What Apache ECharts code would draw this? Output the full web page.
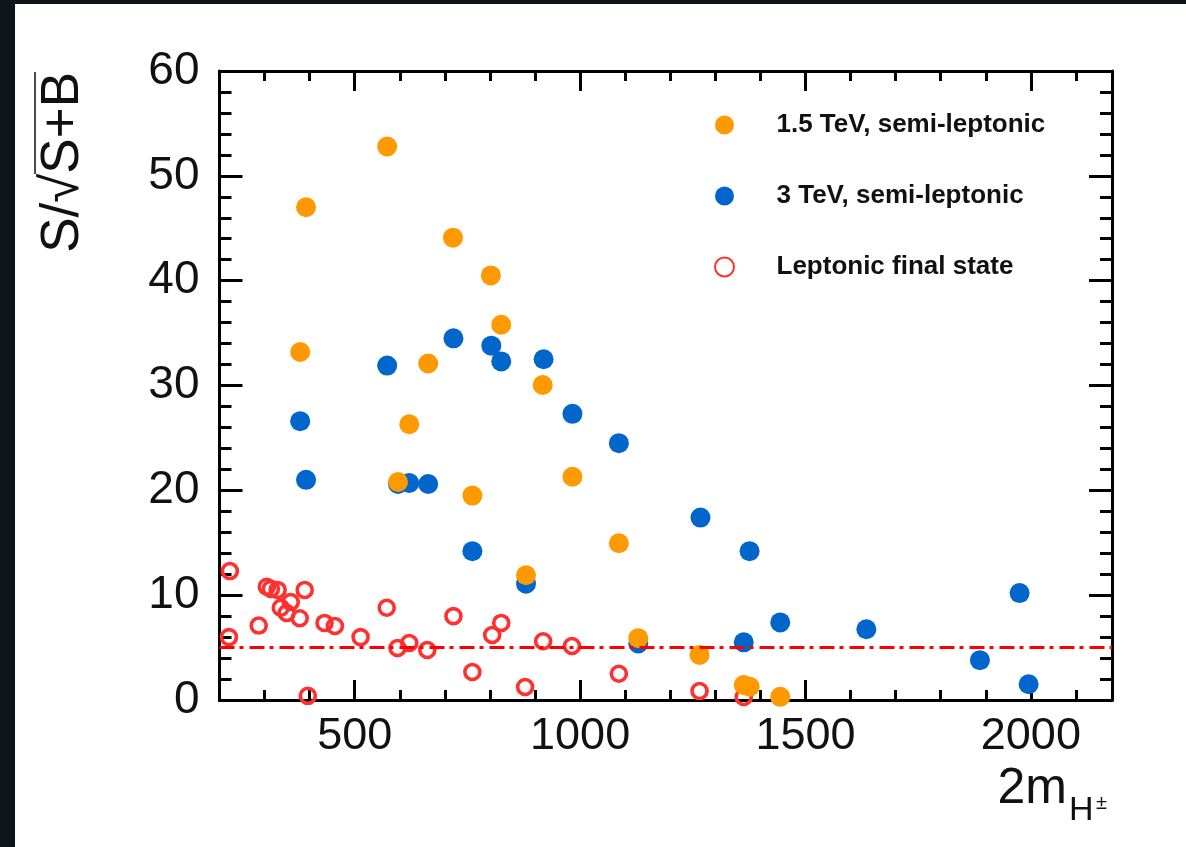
<!DOCTYPE html>
<html>
<head>
<meta charset="utf-8">
<script src="https://cdn.jsdelivr.net/npm/echarts@6/dist/echarts.min.js"></script>
<style>
  html, body { margin: 0; padding: 0; background: #0e141a; width: 1186px; height: 847px; overflow: hidden; }
  #chart { position: absolute; left: 15px; top: 4px; width: 1171px; height: 843px; background: #ffffff; }
</style>
</head>
<body>
<div id="chart"></div>
<script>
// ---- data ----
const seriesNames = ['1.5 TeV, semi-leptonic', '3 TeV, semi-leptonic', 'Leptonic final state'];

const orangeX = [572, 392, 379, 718, 802, 825, 663, 917, 621, 596, 761, 983, 1086, 880, 1129, 1265, 1363, 1376, 1444];
const orangeY = [52.8, 47.0, 33.2, 44.1, 40.5, 35.8, 32.1, 30.05, 26.3, 20.8, 19.5, 21.3, 14.95, 11.9, 5.9, 4.3, 1.43, 1.27, 0.3];

const blueX = [572, 719, 803, 825, 919, 379, 392, 596, 621, 663, 983, 1086, 761, 880, 1267, 1376, 1129, 1363, 1444, 1635, 1887, 1975, 1995];
const blueY = [31.9, 34.5, 33.8, 32.3, 32.5, 26.6, 21.0, 20.6, 20.7, 20.6, 27.3, 24.5, 14.2, 11.1, 17.4, 14.2, 5.4, 5.5, 7.4, 6.75, 3.8, 10.2, 1.5];

const redX = [223, 221, 287, 305, 314, 329, 358, 336, 349, 378, 389, 396, 433, 456, 513, 571, 595, 621, 661, 719, 761, 805, 825, 878, 918, 982, 1086, 1265, 1363];
const redY = [12.3, 6.0, 7.1, 10.8, 10.6, 10.5, 9.35, 8.8, 8.3, 7.8, 10.5, 0.4, 7.35, 7.06, 6.0, 8.8, 4.96, 5.44, 4.77, 8.0, 2.67, 6.2, 7.35, 1.24, 5.6, 5.15, 2.5, 0.86, 0.29];

const thresholdY = 5;
const xMin = 200, xMax = 2180, xMinorStep = 100;
const xMajorTicks = [500, 1000, 1500, 2000];
const yMin = 0, yMax = 60, yStep = 10;
const yTitle = 'S/\u221AS+B';
const xTitleMain = '2m';
const xTitleSub = 'H';
const xTitleSup = '\u00B1';

// ---- build ----
const zip = (xs, ys) => xs.map((x, i) => [x, ys[i]]);
const FONT = '"Liberation Sans", Arial, Helvetica, sans-serif';
const black = '#000';

function xAxisBase(pos) {
  return {
    type: 'value', min: xMin, max: xMax, position: pos,
    splitLine: { show: false },
    axisLine: { show: true, onZero: false, lineStyle: { color: black, width: 3 } }
  };
}

const xAxes = [
  Object.assign(xAxisBase('bottom'), {
    interval: xMinorStep,
    axisTick: { show: true, inside: true, length: 10, lineStyle: { color: black, width: 3 } },
    axisLabel: { show: true, customValues: xMajorTicks, formatter: v => String(v), fontSize: 45, fontFamily: FONT, color: '#111', margin: 14 }
  }),
  Object.assign(xAxisBase('bottom'), {
    interval: xMinorStep,
    axisTick: { show: true, inside: true, length: 20, customValues: xMajorTicks, lineStyle: { color: black, width: 3 } },
    axisLabel: { show: false }
  }),
  Object.assign(xAxisBase('top'), {
    interval: xMinorStep,
    axisTick: { show: true, inside: true, length: 10, lineStyle: { color: black, width: 3 } },
    axisLabel: { show: false }
  }),
  Object.assign(xAxisBase('top'), {
    interval: xMinorStep,
    axisTick: { show: true, inside: true, length: 20, customValues: xMajorTicks, lineStyle: { color: black, width: 3 } },
    axisLabel: { show: false }
  })
];

function yAxisBase(pos, labels) {
  return {
    type: 'value', min: yMin, max: yMax, interval: yStep, position: pos,
    splitLine: { show: false },
    axisLine: { show: true, onZero: false, lineStyle: { color: black, width: 3 } },
    axisTick: { show: true, inside: true, length: 23, lineStyle: { color: black, width: 3 } },
    minorTick: { show: true, splitNumber: 5, length: 12, lineStyle: { color: black, width: 3 } },
    axisLabel: { show: labels, fontSize: 46, fontFamily: FONT, color: '#111', margin: 20 }
  };
}

const option = {
  animation: false,
  backgroundColor: '#ffffff',
  grid: { left: 204.5, right: 74, top: 67, bottom: 147, containLabel: false },
  xAxis: xAxes,
  yAxis: [yAxisBase('left', true), yAxisBase('right', false)],
  legend: {
    data: seriesNames,
    orient: 'vertical',
    left: 694, top: 103,
    itemWidth: 94, itemHeight: 19,
    itemGap: 45,
    symbolKeepAspect: true,
    textStyle: { fontSize: 26, fontWeight: 'bold', fontFamily: FONT, color: '#111' }
  },
  series: [
    {
      name: 'threshold', type: 'scatter', data: [], z: 1,
      markLine: {
        silent: true, symbol: 'none', label: { show: false },
        lineStyle: { color: '#ff0000', width: 3, type: [15, 5, 4, 6] },
        data: [{ yAxis: thresholdY }]
      }
    },
    {
      name: seriesNames[2], type: 'scatter', z: 2,
      symbol: 'circle', symbolSize: 15,
      itemStyle: { color: 'rgba(255,255,255,0)', borderColor: '#ff3030', borderWidth: 3.6, opacity: 1 },
      data: zip(redX, redY)
    },
    {
      name: seriesNames[1], type: 'scatter', z: 3,
      symbol: 'circle', symbolSize: 20,
      itemStyle: { color: '#0066cc', opacity: 1 },
      data: zip(blueX, blueY)
    },
    {
      name: seriesNames[0], type: 'scatter', z: 4,
      symbol: 'circle', symbolSize: 20,
      itemStyle: { color: '#ff9900', opacity: 1 },
      data: zip(orangeX, orangeY)
    }
  ],
  graphic: [
    {
      type: 'text', x: 48, y: 68, rotation: Math.PI / 2,
      style: { text: yTitle, fontSize: 53, fontFamily: FONT, fill: '#111', align: 'right', verticalAlign: 'middle' }
    },
    {
      type: 'line', shape: { x1: 20, y1: 68, x2: 20, y2: 170 },
      style: { stroke: '#111', lineWidth: 1.5 }
    },
    {
      type: 'text', x: 1052, y: 785,
      style: { text: xTitleMain, fontSize: 50, fontFamily: FONT, fill: '#111', align: 'right', verticalAlign: 'middle' }
    },
    {
      type: 'text', x: 1054, y: 807,
      style: { text: xTitleSub, fontSize: 34, fontFamily: FONT, fill: '#111', align: 'left', verticalAlign: 'middle' }
    },
    {
      type: 'text', x: 1081, y: 799,
      style: { text: xTitleSup, fontSize: 20, fontFamily: FONT, fill: '#111', align: 'left', verticalAlign: 'middle' }
    }
  ]
};

const chart = echarts.init(document.getElementById('chart'));
chart.setOption(option);
</script>
</body>
</html>
